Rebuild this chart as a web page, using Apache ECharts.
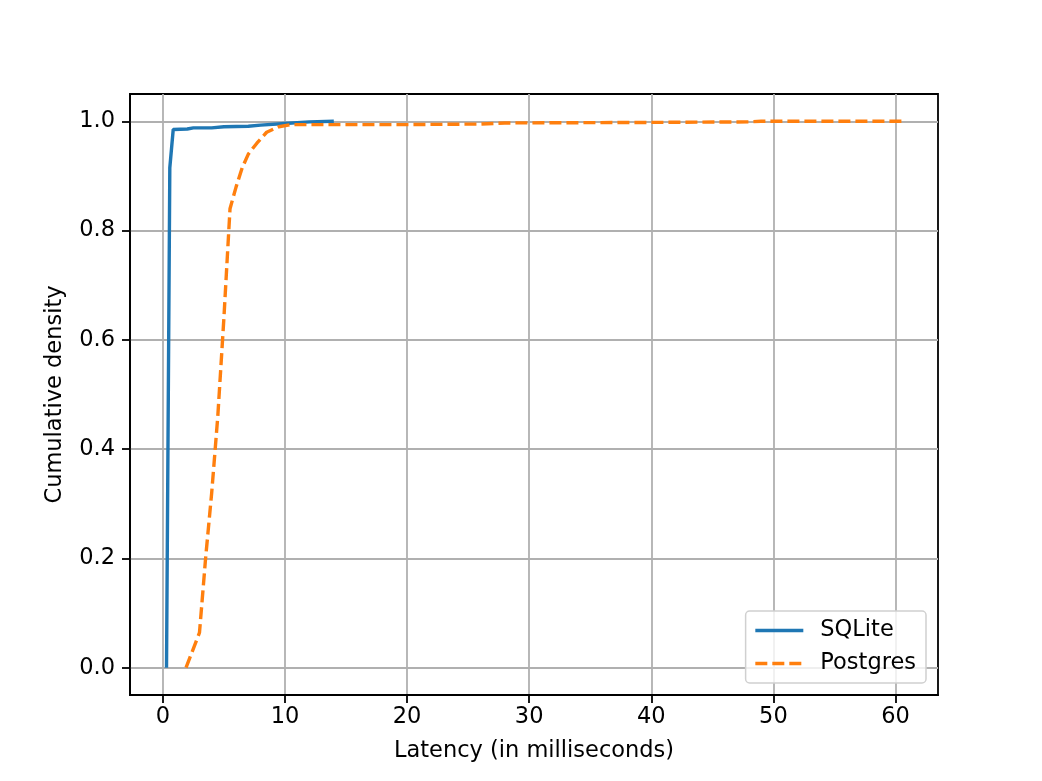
<!DOCTYPE html>
<html>
<head>
<meta charset="utf-8">
<script src="https://cdn.jsdelivr.net/npm/echarts@6/dist/echarts.min.js"></script>
<style>html,body{margin:0;padding:0;background:#fff}#c{width:1042px;height:781px}</style>
</head>
<body>
<div id="c"></div>
<script>
const sqliteX = [0.3, 0.57, 0.85, 2.0, 2.5, 4.0, 5.0, 7.0, 8.0, 10.0, 12.0, 14.0];
const sqliteY = [0.0, 0.915, 0.985, 0.986, 0.988, 0.988, 0.99, 0.991, 0.993, 0.996, 0.999, 1.0];
const postgresX = [1.9, 3.0, 3.5, 4.0, 4.5, 5.0, 5.5, 6.0, 6.5, 7.0, 7.7, 8.5, 9.5, 10.5, 20.0, 26.0, 28.0, 40.0, 48.0, 49.0, 60.5];
const postgresY = [0.0, 0.064, 0.2, 0.32, 0.46, 0.64, 0.84, 0.88, 0.915, 0.94, 0.96, 0.98, 0.99, 0.994, 0.994, 0.995, 0.997, 0.998, 0.999, 1.0, 1.0];
const xTicks = [0, 10, 20, 30, 40, 50, 60];
const yTicks = [0.0, 0.2, 0.4, 0.6, 0.8, 1.0];

const font = 'DejaVu Sans';
const fs = 22.5;
const chart = echarts.init(document.getElementById('c'));
chart.setOption({
  animation: false,
  textStyle: {fontFamily: font},
  grid: {left: 130, right: 104, top: 94, bottom: 86, show: true, borderColor: '#000', borderWidth: 1.8, backgroundColor: 'transparent'},
  legend: {
    right: 116, bottom: 98, orient: 'vertical',
    itemWidth: 48, itemHeight: 14, itemGap: 10,
    padding: [8, 10, 8, 8],
    backgroundColor: 'rgba(255,255,255,0.8)', borderColor: '#d0d0d0', borderWidth: 1.5, borderRadius: 4,
    textStyle: {fontFamily: font, fontSize: fs, color: '#000', padding: [0, 0, 0, 12]},
    itemStyle: {opacity: 0},
    data: [
      {name: 'SQLite', itemStyle: {opacity: 0}, lineStyle: {color: '#1f77b4', width: 3.4, type: 'solid'}},
      {name: 'Postgres', itemStyle: {opacity: 0}, lineStyle: {color: '#ff7f0e', width: 3.4, type: [12, 5]}}
    ]
  },
  xAxis: {
    type: 'value', min: -2.69, max: 63.48,
    name: 'Latency (in milliseconds)', nameLocation: 'middle', nameGap: 45,
    nameTextStyle: {fontFamily: font, fontSize: fs, color: '#000'},
    axisLine: {show: true, onZero: false, lineStyle: {color: '#000', width: 1.8}},
    axisTick: {show: true, inside: false, length: 8, lineStyle: {color: '#000', width: 1.8}, customValues: xTicks},
    axisLabel: {customValues: xTicks, fontFamily: font, fontSize: fs, color: '#000', margin: 11, formatter: v => String(v)},
    splitLine: {show: true, lineStyle: {color: '#b0b0b0', width: 1.8}}
  },
  yAxis: {
    type: 'value', min: -0.05, max: 1.05,
    name: 'Cumulative density', nameLocation: 'middle', nameGap: 63,
    nameTextStyle: {fontFamily: font, fontSize: fs, color: '#000'},
    axisLine: {show: true, onZero: false, lineStyle: {color: '#000', width: 1.8}},
    axisTick: {show: true, inside: false, length: 8, lineStyle: {color: '#000', width: 1.8}, customValues: yTicks},
    axisLabel: {customValues: yTicks, fontFamily: font, fontSize: fs, color: '#000', margin: 15, formatter: v => v.toFixed(1)},
    splitLine: {show: true, lineStyle: {color: '#b0b0b0', width: 1.8}}
  },
  series: [
    {name: 'SQLite', type: 'line', symbol: 'none', color: '#1f77b4',
     lineStyle: {color: '#1f77b4', width: 3.4},
     data: sqliteX.map((x, i) => [x, sqliteY[i]])},
    {name: 'Postgres', type: 'line', symbol: 'none', color: '#ff7f0e',
     lineStyle: {color: '#ff7f0e', width: 3.4, type: [12, 5]},
     data: postgresX.map((x, i) => [x, postgresY[i]])}
  ]
});
</script>
</body>
</html>
